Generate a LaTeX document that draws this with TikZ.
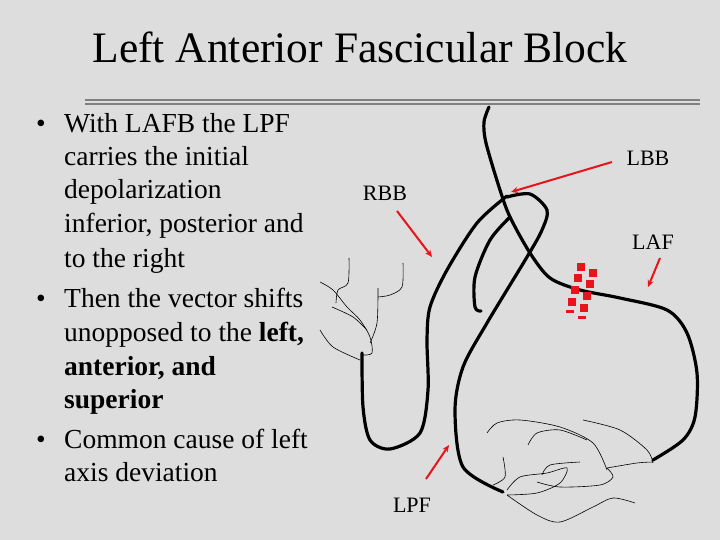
\documentclass[tikz,border=0pt]{standalone}
\usepackage{fontspec}
\usetikzlibrary{arrows.meta}
\setmainfont{Liberation Serif}
\definecolor{bg}{HTML}{DDDDDD}
\definecolor{rd}{HTML}{E8141B}
\begin{document}
\begin{tikzpicture}[x=1pt,y=-1pt,
  fib/.style={line width=3.2pt,line cap=round,line join=round},
  pk/.style={line width=0.6pt},
  rarrow/.style={rd,line width=2pt,-{Stealth[length=7pt,width=6pt]}},
  lbl/.style={font=\fontsize{22}{22}\selectfont},
  txt/.style={anchor=base west,font=\fontsize{27.5}{27.5}\selectfont,inner sep=0pt},
  sq/.style={fill=rd,draw=none}]
\fill[bg] (0,0) rectangle (720,540);
\useasboundingbox (0,0) rectangle (720,540);
\node[font=\fontsize{43.5}{43.5}\selectfont] (title) at (360,47) {Left Anterior Fascicular Block};
\draw[gray,line width=1.3pt] (85,100) -- (700,100);
\draw[gray,line width=1.3pt] (85,104) -- (700,104);
% bullets
\node[txt] (b1) at (36,133) {•};
\node[txt] (t1) at (64,133) {With LAFB the LPF};
\node[txt] (t2) at (64,166) {carries the initial};
\node[txt] (t3) at (64,199) {depolarization};
\node[txt] (t4) at (64,233) {inferior, posterior and};
\node[txt] (t5) at (64,267) {to the right};
\node[txt] (b2) at (36,307) {•};
\node[txt] (t6) at (64,307) {Then the vector shifts};
\node[txt] (t7) at (64,341) {unopposed to the \textbf{left,}};
\node[txt] (t8) at (64,375) {\textbf{anterior, and}};
\node[txt] (t9) at (64,408) {\textbf{superior}};
\node[txt] (b3) at (36,448) {•};
\node[txt] (t10) at (64,448) {Common cause of left};
\node[txt] (t11) at (64,481) {axis deviation};
% Purkinje fibres
\draw[pk] plot[smooth] coordinates {(349,258) (348,283) (338,290) (336,303)};
\draw[pk] plot[smooth] coordinates {(320,282) (333,290) (347,307) (360,320) (370,337) (372,353) (363,355)};
\draw[pk] plot[smooth] coordinates {(403,263) (402,287) (390,295) (378,297)};
\draw[pk] plot[smooth] coordinates {(378,288) (377,323) (370,343)};
\draw[pk] plot[smooth] coordinates {(332,307) (353,317) (367,330)};
\draw[pk] plot[smooth] coordinates {(320,330) (333,347) (360,360)};
\draw[pk] plot[smooth] coordinates {(487,433) (497,423) (520,420) (560,427) (593,443) (607,470)};
\draw[pk] plot[smooth] coordinates {(528,445) (537,433) (560,430) (587,440)};
\draw[pk] plot[smooth] coordinates {(583,420) (620,430) (647,450) (653,463)};
\draw[pk] plot[smooth] coordinates {(607,468) (637,463) (653,462)};
\draw[pk] plot[smooth] coordinates {(607,468) (613,477) (600,485) (560,487) (537,482)};
\draw[pk] plot[smooth] coordinates {(503,457) (505,477) (493,485)};
\draw[pk] plot[smooth] coordinates {(507,490) (520,477) (547,473) (567,468) (560,483) (537,493) (507,495)};
\draw[pk] plot[smooth] coordinates {(542,475) (550,465) (580,462)};
\draw[pk] plot[smooth] coordinates {(507,495) (537,515) (560,522) (593,507) (613,498) (635,503)};
% main fibres
\draw[fib] plot[smooth] coordinates {(489,107) (484,122) (486,143) (500,190) (510,217) (530,253) (550,278) (580,290) (620,298) (667,310) (687,333) (697,373) (695,417) (683,440) (653,460)};
\draw[fib] plot[smooth] coordinates {(507,196) (477,223) (447,270) (430,307) (427,340) (428,390) (420,433) (390,449) (370,440) (363,407) (362,353)};
\draw[fib] plot[smooth] coordinates {(507,197) (530,194) (547,210) (542,230) (527,257) (487,323) (463,367) (455,410) (463,467) (503,492)};
\draw[fib] plot[smooth] coordinates {(510,217) (490,240) (475,277) (475,307) (481,311)};
% block
\foreach \x/\y in {581/267,593/273,578/278,590/284,575/290,587/296,572/302,584/308}
  \fill[sq] (\x-4,\y-4) rectangle (\x+4,\y+4);
\fill[sq] (566,310) rectangle (574,312.5);
\fill[sq] (578,316) rectangle (586,318.5);
% labels and arrows
\node[lbl] (lbb) at (648,158) {LBB};
\node[lbl] (rbb) at (385,193) {RBB};
\node[lbl] (laf) at (653,242) {LAF};
\node[lbl] (lpf) at (412,505) {LPF};
\coordinate (lbbs) at (612,162); \coordinate (lbbe) at (511,192);
\coordinate (rbbs) at (397,211); \coordinate (rbbe) at (432,257);
\coordinate (lafs) at (660,258); \coordinate (lafe) at (648,287);
\coordinate (lpfs) at (426,479); \coordinate (lpfe) at (449,445);
\draw[rarrow] (lbbs) -- (lbbe);
\draw[rarrow] (rbbs) -- (rbbe);
\draw[rarrow] (lafs) -- (lafe);
\draw[rarrow] (lpfs) -- (lpfe);
\end{tikzpicture}
\end{document}
